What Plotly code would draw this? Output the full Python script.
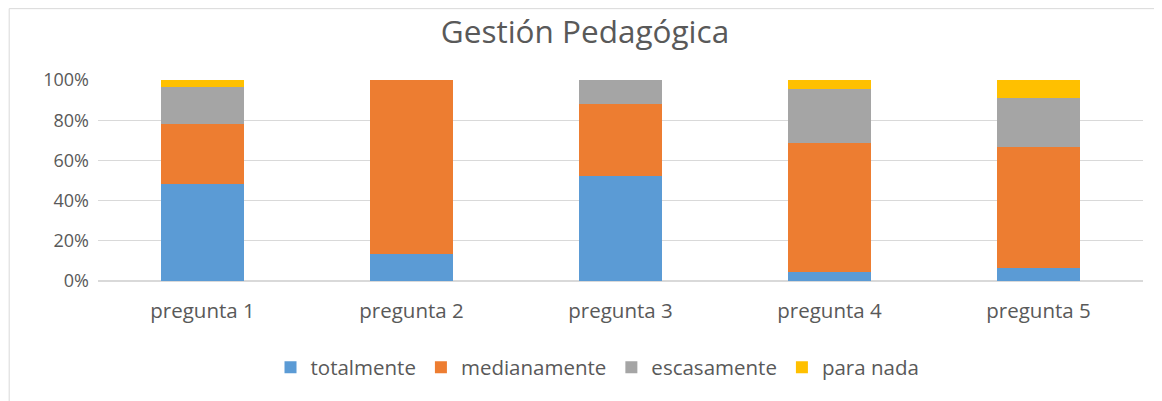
import plotly.graph_objects as go

preguntas = ["pregunta 1", "pregunta 2", "pregunta 3", "pregunta 4", "pregunta 5"]

# porcentajes
totalmente = [48.5, 13.6, 52.0, 4.5, 6.5]
medianamente = [29.6, 86.4, 36.0, 64.1, 60.0]
escasamente = [18.3, 0.0, 12.0, 26.9, 24.7]
para_nada = [3.6, 0.0, 0.0, 4.5, 8.8]

series = [
    ("totalmente", totalmente, "#5b9bd5"),
    ("medianamente", medianamente, "#ed7d31"),
    ("escasamente", escasamente, "#a5a5a5"),
    ("para nada", para_nada, "#ffc000"),
]

fig = go.Figure()
for name, vals, color in series:
    fig.add_trace(go.Bar(x=preguntas, y=vals, name=name, marker_color=color,
                         marker_line_width=0))

# la pagina tiene 8px de margen, el grafico se ajusta a la ventana
fig.update_layout(
    width=1154, height=393,
    barmode="stack", bargap=0.6,
    paper_bgcolor="white", plot_bgcolor="white",
    font=dict(family="Open Sans", size=18, color="#595959"),
    title=dict(text="Gestión Pedagógica", x=0.5, xanchor="center",
               y=0.938, yanchor="middle",
               font=dict(size=31.5, color="#595959")),
    margin=dict(l=90, r=19, t=72, b=120),
    legend=dict(orientation="h", x=0.478, xanchor="center", y=-0.43, yanchor="middle",
                font=dict(size=20.5), traceorder="normal", itemwidth=30),
    showlegend=True,
)
fig.update_yaxes(range=[0, 100], dtick=20, ticksuffix="%", showgrid=True,
                 gridcolor="#d9d9d9", zeroline=True, zerolinecolor="#d9d9d9",
                 ticks="", ticklabelstandoff=8)
fig.update_xaxes(showgrid=False, ticks="", ticklabelstandoff=15,
                 tickfont=dict(size=20.5))

# marco del grafico
fig.add_shape(type="rect", xref="paper", yref="paper",
              x0=-0.085, x1=1.05, y0=-0.7, y1=1.355,
              line=dict(color="#d9d9d9", width=1), fillcolor="rgba(0,0,0,0)")

fig.write_html("out.html")
